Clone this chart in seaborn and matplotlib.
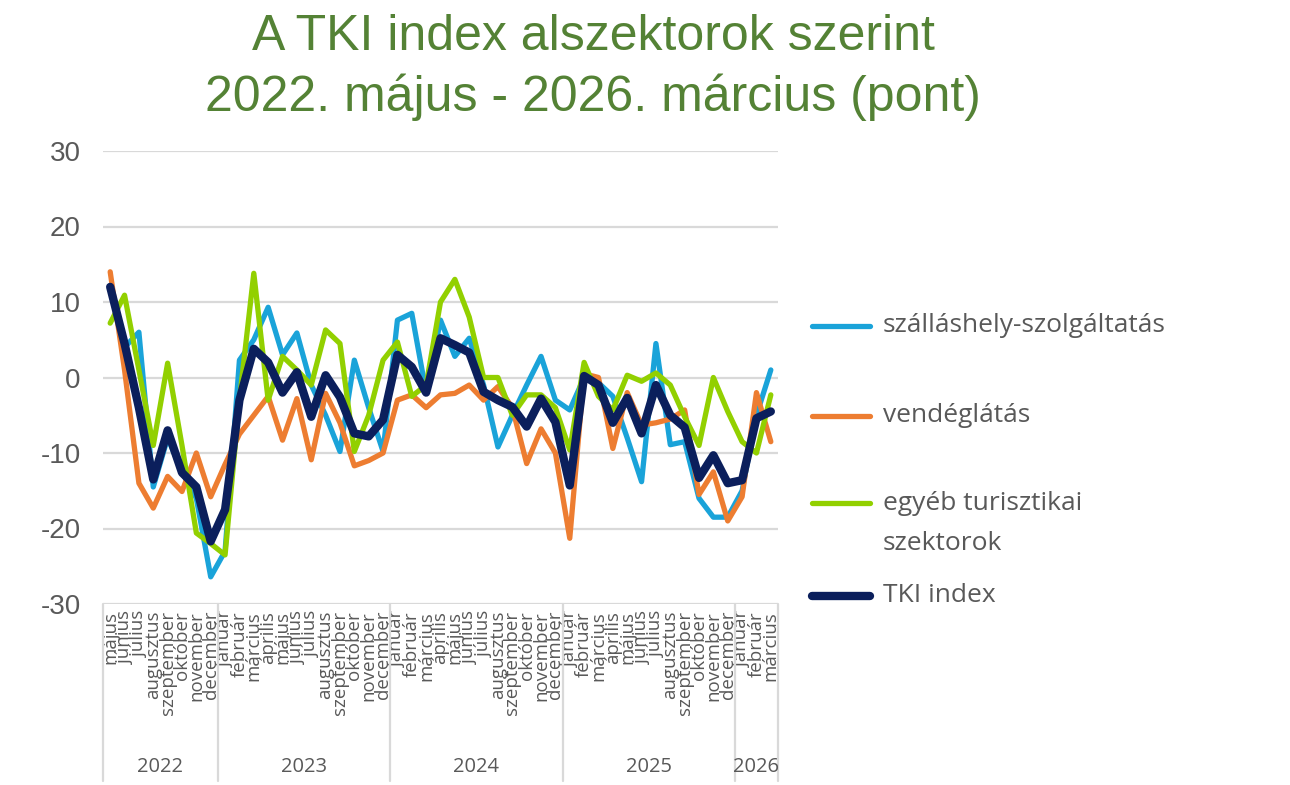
import matplotlib
matplotlib.use("Agg")
import matplotlib.pyplot as plt
from matplotlib.lines import Line2D
import numpy as np
import pandas as pd
import seaborn as sns

# %% data
honapok = ["január", "február", "március", "április", "május", "június",
           "július", "augusztus", "szeptember", "október", "november", "december"]
month_labels = honapok[4:] + honapok * 3 + honapok[:3]
years = ["2022", "2023", "2024", "2025", "2026"]
months_per_year = [8, 12, 12, 12, 3]

szallas = [12, 4, 6, -14.5, -8, -12.5, -16, -26.4, -23, 2.3, 5, 9.3,
           3, 5.9, -1, -5, -9.8, 2.3, -4, -9.8, 7.6, 8.5, -2, 7.6,
           2.8, 5.2, -1, -9.2, -5, -1, 2.8, -3, -4.3, 0, -0.7, -2.5,
           -8, -13.8, 4.5, -8.9, -8.5, -16, -18.5, -18.5, -15, -5, 1]
vendeg = [14, 1, -14, -17.3, -13.1, -15.1, -10, -15.8, -11.5, -7.5, -5, -2.5,
          -8.3, -2.8, -10.9, -2.1, -6, -11.7, -11, -10, -3, -2.3, -4, -2.3,
          -2.1, -1, -3, -1.2, -4, -11.4, -6.8, -10, -21.3, 0.5, 0, -9.4,
          -2, -6.3, -6, -5.5, -4.3, -15.5, -12.5, -19, -15.8, -2, -8.5]
egyeb = [7.2, 10.9, 1, -9, 1.9, -9, -20.6, -22, -23.5, -3, 13.8, -3,
         2.8, 1, -1, 6.3, 4.5, -9.8, -5, 2.3, 4.7, -2.5, -1, 10,
         13, 8, 0, 0, -5, -2.3, -2.3, -4, -9.6, 2, -2.5, -4.3,
         0.3, -0.5, 0.6, -1, -5.2, -9, 0, -4.5, -8.5, -10, -2.3]
tki = [12, 4.5, -4, -13.5, -7, -12.6, -14.5, -21.7, -17.5, -3, 3.8, 2,
       -2, 0.7, -5.2, 0.3, -2.6, -7.4, -7.8, -5.6, 3, 1.4, -2, 5.2,
       4.3, 3.3, -1.9, -3, -3.9, -6.5, -2.8, -5.9, -14.3, 0.2, -1, -6,
       -2.7, -7.4, -1, -5, -6.6, -13.3, -10.3, -14, -13.6, -5.4, -4.5]

series_names = ["szálláshely-szolgáltatás", "vendéglátás",
                "egyéb turisztikai\nszektorok", "TKI index"]
colors = ["#1AA3D9", "#ED7D31", "#92D000", "#0B1F5C"]
widths = [3.8, 3.8, 3.8, 6.0]

idx = np.arange(len(month_labels))
df = pd.DataFrame({"idx": idx, "szallas": szallas, "vendeg": vendeg,
                   "egyeb": egyeb, "tki": tki})

# %% plot
sns.set_style("white")
plt.rcParams["font.family"] = ["Liberation Sans", "DejaVu Sans"]
plt.rcParams["axes.unicode_minus"] = False
gray = "#595959"
grid_c = "#D9D9D9"
label_font = ["Open Sans", "DejaVu Sans"]

fig = plt.figure(figsize=(12.9, 7.85), dpi=100)
ax = fig.add_axes([103 / 1290, 1 - 604 / 785, 675 / 1290, 453 / 785])

for yv in range(-30, 31, 10):
    ax.axhline(yv, color=grid_c, lw=1.6, zorder=0)

for col, c, w in zip(["szallas", "vendeg", "egyeb", "tki"], colors, widths):
    sns.lineplot(data=df, x="idx", y=col, color=c, linewidth=w, ax=ax,
                 legend=False)

ax.set_xlim(-0.5, len(month_labels) - 0.5)
ax.set_ylim(-30, 30)
ax.set_yticks(range(-30, 31, 10))
ax.tick_params(axis="y", length=0, pad=16, labelsize=20, labelcolor=gray)
ax.set_xticks(idx)
ax.set_xticklabels(month_labels, rotation=90, fontsize=13.5, color=gray,
                   family=label_font)
ax.tick_params(axis="x", length=0, pad=5)
ax.set_xlabel("")
ax.set_ylabel("")
for s in ax.spines.values():
    s.set_visible(False)

# year separators and year labels
trans = ax.get_xaxis_transform()
bounds = np.concatenate([[0], np.cumsum(months_per_year)]) - 0.5
for b in bounds:
    ax.plot([b, b], [0, -0.39], color=grid_c, lw=1.6, transform=trans, clip_on=False)
for y, lo, hi in zip(years, bounds[:-1], bounds[1:]):
    ax.text((lo + hi) / 2, -0.36, y, transform=trans, ha="center", va="center",
            fontsize=14.5, color=gray, family=label_font)

# title
title_c = "#548235"
fig.text(0.46, 1 - 37 / 785, "A TKI index alszektorok szerint", ha="center",
         va="center", fontsize=36, color=title_c)
fig.text(0.46, 1 - 97 / 785, "2022. május - 2026. március (pont)", ha="center",
         va="center", fontsize=36, color=title_c)

# legend
leg_y = [326, 416, 503, 596]
for name, c, w, yy in zip(series_names, colors, widths, leg_y):
    yf = 1 - yy / 785
    fig.add_artist(Line2D([812 / 1290, 870 / 1290], [yf, yf], color=c, lw=w,
                          transform=fig.transFigure))
    lines = name.split("\n")
    for k, part in enumerate(lines):
        fig.text(883 / 1290, yf - k * 40 / 785, part, ha="left", va="center",
                 fontsize=19, color=gray, family=label_font)

fig.savefig("out.png", dpi=100, facecolor="white")
